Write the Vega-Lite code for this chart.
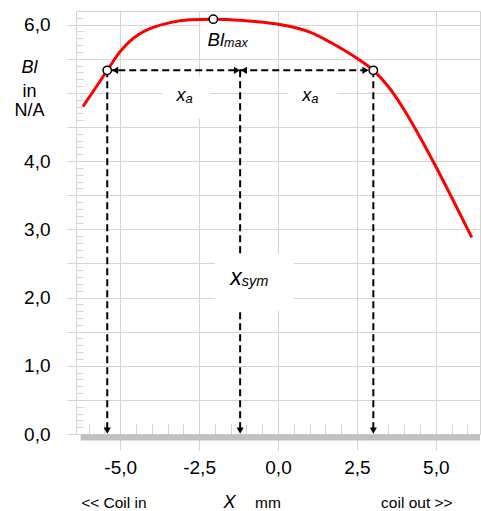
{
  "$schema": "https://vega.github.io/schema/vega-lite/v6.json",
  "width": 404,
  "height": 423,
  "autosize": {"type": "none"},
  "padding": {"left": 76, "top": 11, "right": 1, "bottom": 77},
  "config": {
    "view": {"stroke": "#d4d4d4", "strokeWidth": 1},
    "font": "Liberation Sans"
  },
  "encoding": {
    "x": {
      "field": "x", "type": "quantitative",
      "scale": {"domain": [-6.4, 6.4], "nice": false, "zero": false},
      "axis": {
        "values": [-6,-5.5,-5,-4.5,-4,-3.5,-3,-2.5,-2,-1.5,-1,-0.5,0,0.5,1,1.5,2,2.5,3,3.5,4,4.5,5,5.5,6],
        "title": null,
        "domain": false,
        "grid": true,
        "gridColor": "#d4d4d4",
        "gridOpacity": {"condition": {"test": "abs(datum.value/2.5 - round(datum.value/2.5)) < 0.001", "value": 1}, "value": 0},
        "tickColor": "#d4d4d4",
        "tickSize": {"condition": {"test": "abs(datum.value/2.5 - round(datum.value/2.5)) < 0.001", "value": 16}, "value": -10},
        "labelExpr": "abs(datum.value/2.5 - round(datum.value/2.5)) < 0.001 ? (datum.value < 0 ? '-' : '') + replace(format(abs(datum.value), '.1f'), '.', ',') : ''",
        "labelFontSize": 19,
        "labelColor": "#000000",
        "labelPadding": 8,
        "labelOverlap": false,
        "labelFlush": false,
        "labelBound": false
      }
    },
    "y": {
      "field": "y", "type": "quantitative",
      "scale": {"domain": [0, 6.2], "nice": false, "zero": false},
      "axis": {
        "values": [0,0.1,0.2,0.3,0.4,0.5,0.6,0.7,0.8,0.9,1,1.1,1.2,1.3,1.4,1.5,1.6,1.7,1.8,1.9,2,2.1,2.2,2.3,2.4,2.5,2.6,2.7,2.8,2.9,3,3.1,3.2,3.3,3.4,3.5,3.6,3.7,3.8,3.9,4,4.1,4.2,4.3,4.4,4.5,4.6,4.7,4.8,4.9,5,5.1,5.2,5.3,5.4,5.5,5.6,5.7,5.8,5.9,6,6.1],
        "title": null,
        "domain": false,
        "grid": true,
        "gridColor": "#d4d4d4",
        "gridOpacity": {"condition": {"test": "abs(datum.value*2 - round(datum.value*2)) < 0.001", "value": 1}, "value": 0},
        "tickColor": "#d4d4d4",
        "tickSize": {"condition": {"test": "abs(datum.value*2 - round(datum.value*2)) < 0.001", "value": 9}, "value": -7},
        "labelExpr": "abs(datum.value - round(datum.value)) < 0.001 && round(datum.value) != 5 ? replace(format(datum.value, '.1f'), '.', ',') : ''",
        "labelFontSize": 19,
        "labelColor": "#000000",
        "labelPadding": 17,
        "labelOverlap": false,
        "labelFlush": false,
        "labelBound": false
      }
    }
  },
  "layer": [
    {
      "data": {"values": [{"x": -6.25, "x2": 6.4, "y": 0}]},
      "mark": {"type": "rule", "color": "#c0c0c0", "strokeWidth": 6, "yOffset": 3.5},
      "encoding": {"x2": {"field": "x2"}}
    },
    {
      "data": {"values": [{"x": -5.41, "x2": 3.02, "y": 5.33}]},
      "mark": {"type": "rule", "color": "#000000", "strokeWidth": 2, "strokeDash": [7, 4]},
      "encoding": {"x2": {"field": "x2"}}
    },
    {
      "data": {"values": [
        {"x": -5.41, "y": 5.33, "y2": 0.05},
        {"x": -1.2, "y": 5.33, "y2": 0.05},
        {"x": 3.02, "y": 5.33, "y2": 0.05}
      ]},
      "mark": {"type": "rule", "color": "#000000", "strokeWidth": 2, "strokeDash": [7, 4]},
      "encoding": {"y2": {"field": "y2"}}
    },
    {
      "data": {"values": [
        {"x": -3.68, "x2": -2.15, "y": 5.24, "y2": 4.62},
        {"x": 0.33, "x2": 1.87, "y": 5.24, "y2": 4.62},
        {"x": -2.45, "x2": -0.03, "y": 6.03, "y2": 5.56},
        {"x": -2.0, "x2": 0.51, "y": 2.64, "y2": 1.81}
      ]},
      "mark": {"type": "rect", "color": "#ffffff"},
      "encoding": {"x2": {"field": "x2"}, "y2": {"field": "y2"}}
    },
    {
      "data": {"values": [
        {"x": -6.18, "y": 4.80}, {"x": -5.64, "y": 5.17}, {"x": -5.41, "y": 5.33},
        {"x": -5.01, "y": 5.60}, {"x": -4.69, "y": 5.76}, {"x": -4.40, "y": 5.86},
        {"x": -4.06, "y": 5.94}, {"x": -3.42, "y": 6.03}, {"x": -2.79, "y": 6.07},
        {"x": -2.05, "y": 6.08}, {"x": -1.10, "y": 6.06}, {"x": -0.04, "y": 6.01},
        {"x": 0.59, "y": 5.95}, {"x": 1.01, "y": 5.89}, {"x": 1.74, "y": 5.72},
        {"x": 2.49, "y": 5.51}, {"x": 3.02, "y": 5.33}, {"x": 3.50, "y": 5.09},
        {"x": 4.00, "y": 4.75}, {"x": 4.50, "y": 4.35}, {"x": 5.00, "y": 3.92},
        {"x": 5.50, "y": 3.47}, {"x": 6.14, "y": 2.88}
      ]},
      "mark": {"type": "line", "color": "#ff0000", "strokeWidth": 3, "interpolate": "monotone"},
      "encoding": {}
    },
    {
      "data": {"values": [
        {"x": -5.41, "y": 5.33}, {"x": -2.05, "y": 6.08}, {"x": 3.02, "y": 5.33}
      ]},
      "mark": {"type": "point", "filled": false, "fill": "#ffffff", "stroke": "#000000", "strokeWidth": 1.5, "size": 70, "opacity": 1},
      "encoding": {}
    },
    {
      "data": {"values": [
        {"x": -5.16, "y": 5.33, "dir": "left"},
        {"x": -1.30, "y": 5.33, "dir": "right"},
        {"x": -1.08, "y": 5.33, "dir": "left"},
        {"x": 2.77, "y": 5.33, "dir": "right"},
        {"x": -5.41, "y": 0.05, "dir": "down"},
        {"x": -1.2, "y": 0.05, "dir": "down"},
        {"x": 3.02, "y": 0.05, "dir": "down"}
      ]},
      "mark": {"type": "point", "filled": true, "color": "#000000", "size": 50, "opacity": 1},
      "encoding": {
        "shape": {"field": "dir", "type": "nominal", "scale": {"domain": ["left", "right", "down"], "range": ["triangle-left", "triangle-right", "triangle-down"]}, "legend": null}
      }
    },
    {
      "data": {"values": [{"t": "x", "x": -2.93, "y": 4.88}, {"t": "x", "x": 1.05, "y": 4.88}]},
      "mark": {"type": "text", "align": "right", "baseline": "alphabetic", "fontSize": 18, "fontStyle": "italic", "color": "#000000"},
      "encoding": {"text": {"field": "t"}}
    },
    {
      "data": {"values": [{"t": "a", "x": -2.93, "y": 4.88}, {"t": "a", "x": 1.05, "y": 4.88}]},
      "mark": {"type": "text", "align": "left", "baseline": "alphabetic", "fontSize": 13, "fontStyle": "italic", "dy": 1.5, "color": "#000000"},
      "encoding": {"text": {"field": "t"}}
    },
    {
      "data": {"values": [{"t": "Bl", "x": -1.71, "y": 5.68}]},
      "mark": {"type": "text", "align": "right", "baseline": "alphabetic", "fontSize": 18.5, "fontStyle": "italic", "color": "#000000"},
      "encoding": {"text": {"field": "t"}}
    },
    {
      "data": {"values": [{"t": "max", "x": -1.71, "y": 5.68}]},
      "mark": {"type": "text", "align": "left", "baseline": "alphabetic", "fontSize": 12.5, "fontStyle": "italic", "dy": 1, "color": "#000000"},
      "encoding": {"text": {"field": "t"}}
    },
    {
      "data": {"values": [{"t": "x", "x": -1.15, "y": 2.19}]},
      "mark": {"type": "text", "align": "right", "baseline": "alphabetic", "fontSize": 23, "fontStyle": "italic", "color": "#000000"},
      "encoding": {"text": {"field": "t"}}
    },
    {
      "data": {"values": [{"t": "sym", "x": -1.15, "y": 2.19}]},
      "mark": {"type": "text", "align": "left", "baseline": "alphabetic", "fontSize": 14.5, "fontStyle": "italic", "dy": 1.5, "color": "#000000"},
      "encoding": {"text": {"field": "t"}}
    },
    {
      "data": {"values": [{"t": "Bl", "x": -7.87, "y": 5.29}, {"t": "X", "x": -1.54, "y": -1.08}]},
      "mark": {"type": "text", "align": "center", "baseline": "alphabetic", "fontSize": 18, "fontStyle": "italic", "color": "#000000"},
      "encoding": {"text": {"field": "t"}}
    },
    {
      "data": {"values": [{"t": "in", "x": -7.87, "y": 4.94}, {"t": "N/A", "x": -7.87, "y": 4.66}]},
      "mark": {"type": "text", "align": "center", "baseline": "alphabetic", "fontSize": 18, "color": "#000000"},
      "encoding": {"text": {"field": "t"}}
    },
    {
      "data": {"values": [
        {"t": "<< Coil in", "x": -5.2, "y": -1.08},
        {"t": "mm", "x": -0.32, "y": -1.08},
        {"t": "coil out >>", "x": 4.4, "y": -1.08}
      ]},
      "mark": {"type": "text", "align": "center", "baseline": "alphabetic", "fontSize": 15.5, "color": "#000000"},
      "encoding": {"text": {"field": "t"}}
    }
  ]
}
